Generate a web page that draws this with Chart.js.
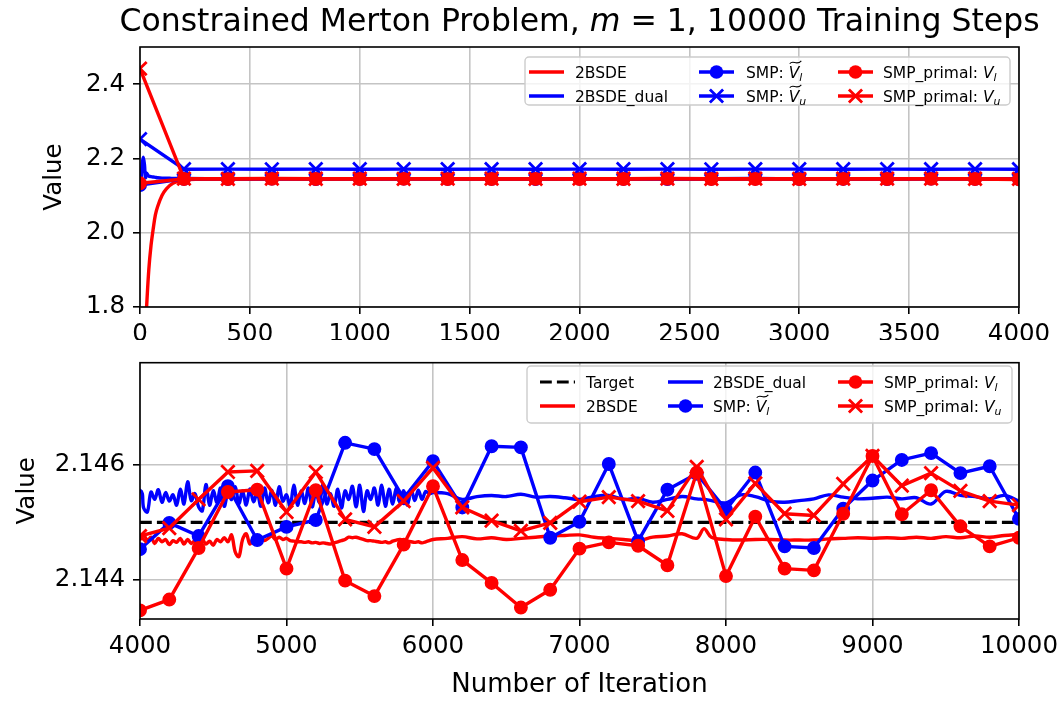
<!DOCTYPE html>
<html>
<head>
<meta charset="utf-8">
<script src="https://cdn.jsdelivr.net/npm/chart.js@4.4.1/dist/chart.umd.min.js"></script>
<style>
  html, body { margin: 0; padding: 0; background: #fff; }
  #wrap { position: relative; width: 1064px; height: 702px; }
  #top { position: absolute; left: 0; top: 0; }
  #bottom { position: absolute; left: 0; top: 340px; }
</style>
</head>
<body>
<div id="wrap">
  <canvas id="top" width="1064" height="340"></canvas>
  <canvas id="bottom" width="1064" height="362"></canvas>
</div>
<script>
// iterations at which the 2BSDE losses were logged
const lineIter = [
  0, 5, 10, 15, 20, 25, 30, 40, 50, 60, 70, 80, 100, 120, 150, 200,
  400, 600, 800, 1000, 1200, 1400, 1600, 1800, 2000, 2200, 2400, 2600, 2800, 3000, 3200, 3400, 3600, 3800,
  4000, 4025, 4050, 4075, 4100, 4125, 4150, 4175, 4200, 4225, 4250, 4275, 4300, 4325, 4350, 4375,
  4400, 4425, 4450, 4475, 4500, 4525, 4550, 4575, 4600, 4625, 4650, 4675, 4700, 4725, 4750, 4775,
  4800, 4825, 4850, 4875, 4900, 4925, 4950, 4975, 5000, 5025, 5050, 5075, 5100, 5125, 5150, 5175,
  5200, 5225, 5250, 5275, 5300, 5325, 5350, 5375, 5400, 5425, 5450, 5475, 5500, 5525, 5550, 5575,
  5600, 5625, 5650, 5675, 5700, 5725, 5750, 5775, 5800, 5825, 5850, 5875, 5900, 5925, 5950, 5975, 6000,
  6100, 6200, 6300, 6400, 6500, 6600, 6700, 6800, 6900, 7000, 7100, 7200, 7300, 7400, 7500, 7600, 7700, 7800,
  7850,
  7900, 8000, 8100, 8200, 8300, 8400, 8500, 8600, 8700, 8800, 8900, 9000, 9100, 9200, 9300, 9400, 9500,
  9600, 9700, 9800, 9900, 10000
]

const bsdeVal = [
  1.40, 1.46, 1.53, 1.60, 1.67, 1.74, 1.80, 1.90, 1.965, 2.01, 2.048, 2.07, 2.10, 2.118, 2.133, 2.1425,
  2.1445, 2.1447, 2.1446, 2.1448, 2.1446, 2.1447, 2.1445, 2.1447, 2.1446, 2.1448, 2.1447, 2.1446, 2.1447, 2.1445, 2.1447, 2.1446, 2.1447, 2.1446,
  2.14470, 2.14478, 2.14468, 2.14474, 2.14463, 2.14472, 2.14466, 2.14470, 2.14461, 2.14468,
  2.14465, 2.14472, 2.14462, 2.14470, 2.14463, 2.14468, 2.14458, 2.14470, 2.14462, 2.14467,
  2.14460, 2.14470, 2.14466, 2.14473, 2.14466, 2.14478, 2.14448, 2.14440, 2.14470, 2.14480,
  2.14462, 2.14472, 2.14466, 2.14474, 2.14468, 2.14472, 2.14476, 2.14470, 2.14474, 2.14470,
  2.14472, 2.14468, 2.14467, 2.14466, 2.14466, 2.14465, 2.14466, 2.14464, 2.14465, 2.14463,
  2.14464, 2.14463, 2.14462, 2.14464, 2.14466, 2.14468, 2.14470, 2.14474, 2.14473, 2.14474,
  2.14472, 2.14470, 2.14468, 2.14468, 2.14467, 2.14466, 2.14465, 2.14466, 2.14464, 2.14467,
  2.14469, 2.14470, 2.14468, 2.14467, 2.14466, 2.14465, 2.14466, 2.14464, 2.14466, 2.14468,
  2.14470,
  2.14472, 2.14475, 2.14471, 2.14473, 2.14470, 2.14472, 2.14474, 2.14476, 2.14477, 2.14478,
  2.14474, 2.14472, 2.14470, 2.14468, 2.14474, 2.14476, 2.14480, 2.14472,
  2.14489,
  2.14474, 2.14470, 2.14469, 2.14470, 2.14470, 2.14469, 2.14469, 2.14469, 2.14471, 2.14472, 2.14473,
  2.14472, 2.14473, 2.14472, 2.14474, 2.14472, 2.14475, 2.14473, 2.14476, 2.14474, 2.14477, 2.14479
]

const dualVal = [
  2.112, 2.145, 2.185, 2.203, 2.185, 2.148, 2.160, 2.152, 2.151, 2.150, 2.149, 2.148, 2.147, 2.147, 2.146, 2.1458,
  2.1455, 2.1454, 2.1456, 2.1455, 2.1453, 2.1456, 2.1454, 2.1455, 2.1456, 2.1454, 2.1455, 2.1453, 2.1455, 2.1456, 2.1454, 2.1455, 2.1456, 2.1455,
  2.14556, 2.14525, 2.14518, 2.14553, 2.14540, 2.14557, 2.14535, 2.14552, 2.14537, 2.14548,
  2.14530, 2.14558, 2.14532, 2.14571, 2.14538, 2.14550, 2.14527, 2.14520, 2.14566, 2.14530,
  2.14555, 2.14535, 2.14560, 2.14528, 2.14550, 2.14540, 2.14562, 2.14533, 2.14555, 2.14530,
  2.14558, 2.14536, 2.14552, 2.14528, 2.14560, 2.14534, 2.14556, 2.14530, 2.14562, 2.14537,
  2.14548, 2.14528, 2.14565, 2.14530, 2.14555, 2.14533, 2.14560, 2.14527, 2.14552, 2.14535,
  2.14566, 2.14532, 2.14550, 2.14528, 2.14558, 2.14525, 2.14555, 2.14540, 2.14563, 2.14527,
  2.14565, 2.14519, 2.14555, 2.14540, 2.14560, 2.14530, 2.14565, 2.14528, 2.14558, 2.14532,
  2.14560, 2.14535, 2.14555, 2.14530, 2.14558, 2.14538, 2.14556, 2.14540, 2.14554, 2.14550,
  2.14552,
  2.14550, 2.14540, 2.14545, 2.14547, 2.14545, 2.14549, 2.14544, 2.14545, 2.14543, 2.14540,
  2.14545, 2.14547, 2.14540, 2.14542, 2.14535, 2.14540, 2.14545, 2.14541,
  2.14540,
  2.14538, 2.14534, 2.14548, 2.14545, 2.14537, 2.14535, 2.14538, 2.14541, 2.14548, 2.14544, 2.14541,
  2.14542, 2.14544, 2.14541, 2.14543, 2.14532, 2.14554, 2.14547, 2.14545, 2.14541, 2.14547, 2.14537
]

// SMP evaluations every 200 iterations
const smpIter = [
  0, 200, 400, 600, 800, 1000, 1200, 1400, 1600, 1800, 2000, 2200, 2400, 2600, 2800, 3000, 3200, 3400, 3600, 3800,
  4000, 4200, 4400, 4600, 4800, 5000, 5200, 5400, 5600, 5800, 6000, 6200, 6400, 6600, 6800,
  7000, 7200, 7400, 7600, 7800, 8000, 8200, 8400, 8600, 8800, 9000, 9200, 9400, 9600, 9800, 10000
]

const smpTildeL = [
  2.128, 2.1452, 2.1448, 2.1455, 2.1446, 2.1451, 2.1457, 2.1449, 2.1453, 2.1447, 2.1456, 2.1450, 2.1445, 2.1454, 2.1458, 2.1448, 2.1452, 2.1446, 2.1455, 2.1450,
  2.14453, 2.14499, 2.14476, 2.14563, 2.14469, 2.14492, 2.14504, 2.14639, 2.14628, 2.14542,
  2.14607, 2.14526, 2.14633, 2.14631, 2.14473, 2.14501, 2.14602, 2.14467, 2.14557, 2.14585,
  2.14522, 2.14587, 2.14458, 2.14455, 2.14524, 2.14573, 2.14609, 2.14621, 2.14586, 2.14598, 2.14506
]

// only evaluated up to 4000 (it sits far above the lower panel's range)
const smpTildeU = [
  2.252, 2.1710, 2.1712, 2.1708, 2.1711, 2.1709, 2.1713, 2.1710, 2.1712, 2.1709, 2.1711,
  2.1710, 2.1713, 2.1708, 2.1711, 2.1712, 2.1709, 2.1711, 2.1710, 2.1712, 2.1710
]

const smpPrimalL = [
  2.133, 2.1447, 2.1443, 2.1449, 2.1445, 2.1446, 2.1450, 2.1444, 2.1447, 2.1448, 2.1443, 2.1446, 2.1449, 2.1445, 2.1447, 2.1444, 2.1448, 2.1446, 2.1450, 2.1445,
  2.14346, 2.14365, 2.14455, 2.14553, 2.14557, 2.14419, 2.14556, 2.14398, 2.14371, 2.14461,
  2.14563, 2.14434, 2.14394, 2.14351, 2.14382, 2.14454, 2.14465, 2.14459, 2.14425, 2.14587,
  2.14406, 2.14510, 2.14419, 2.14416, 2.14515, 2.14616, 2.14514, 2.14556, 2.14493, 2.14458, 2.14473
]

const smpPrimalU = [
  2.442, 2.1455, 2.1451, 2.1458, 2.1453, 2.1456, 2.1452, 2.1457, 2.1454, 2.1450, 2.1456, 2.1453, 2.1458, 2.1452, 2.1455, 2.1451, 2.1457, 2.1454, 2.1456, 2.1453,
  2.14476, 2.14490, 2.14540, 2.14588, 2.14590, 2.14518, 2.14588, 2.14505, 2.14492, 2.14537,
  2.14595, 2.14526, 2.14503, 2.14485, 2.14499, 2.14536, 2.14544, 2.14537, 2.14520, 2.14597,
  2.14505, 2.14568, 2.14515, 2.14512, 2.14567, 2.14616, 2.14564, 2.14586, 2.14555, 2.14537, 2.14530
]

const targetValue = 2.145
const targetIter = [4000, 10000]

const xTicksTop = [0, 500, 1000, 1500, 2000, 2500, 3000, 3500, 4000]
const xTicksBottom = [4000, 5000, 6000, 7000, 8000, 9000, 10000]
const yTicksTop = [1.8, 2.0, 2.2, 2.4]
const yTicksBottom = [2.144, 2.146]

// sanity check on hand typed arrays
;[[lineIter, bsdeVal], [lineIter, dualVal], [smpIter, smpTildeL], [smpIter, smpPrimalL], [smpIter, smpPrimalU]].forEach(([a, b], i) => {
  if (a.length !== b.length) throw new Error('length mismatch ' + i + ': ' + a.length + ' vs ' + b.length)
})

const FONT = 'DejaVu Sans'
const RED = '#ff0000'
const BLUE = '#0000ff'
Chart.defaults.font.family = FONT
Chart.defaults.color = '#000'

const styles = {
  target: { parts: [{ t: 'Target' }], color: '#000', width: 3.2, dash: [11.8, 5.1] },
  bsde: { parts: [{ t: '2BSDE' }], color: RED, width: 3.4, smooth: true },
  dual: { parts: [{ t: '2BSDE_dual' }], color: BLUE, width: 3.4, smooth: true },
  tildeL: { parts: [{ t: 'SMP: ' }, { t: 'V', it: 1, tilde: 1 }, { t: 'l', it: 1, sub: 1 }], color: BLUE, width: 3.4, marker: 'circle' },
  tildeU: { parts: [{ t: 'SMP: ' }, { t: 'V', it: 1, tilde: 1 }, { t: 'u', it: 1, sub: 1 }], color: BLUE, width: 3.4, marker: 'x' },
  primalL: { parts: [{ t: 'SMP_primal: ' }, { t: 'V', it: 1 }, { t: 'l', it: 1, sub: 1 }], color: RED, width: 3.4, marker: 'circle' },
  primalU: { parts: [{ t: 'SMP_primal: ' }, { t: 'V', it: 1 }, { t: 'u', it: 1, sub: 1 }], color: RED, width: 3.4, marker: 'x' }
}

function dataset(key, xs, ys, order) {
  const s = styles[key]
  return {
    label: key,
    data: ys.map((y, i) => ({ x: xs[i], y })),
    borderColor: s.color,
    backgroundColor: s.color,
    borderWidth: s.width,
    borderDash: s.dash || [],
    borderJoinStyle: 'round',
    pointStyle: s.marker === 'x' ? 'crossRot' : 'circle',
    pointRadius: s.marker === 'circle' ? 6.2 : s.marker === 'x' ? 9.4 : 0,
    pointBorderWidth: s.marker === 'x' ? 2.8 : 1.5,
    pointHoverRadius: 0,
    tension: s.smooth ? 0.35 : 0,
    fill: false,
    clip: 0,
    order
  }
}

function drawParts(ctx, parts, x, y, size, align) {
  const pieces = parts.map(p => {
    const fs = p.sub ? size * 0.7 : size
    const font = (p.it ? 'italic ' : '') + fs + 'px "' + FONT + '"'
    ctx.font = font
    return Object.assign({}, p, { fs, font, w: ctx.measureText(p.t).width })
  })
  const total = pieces.reduce((a, p) => a + p.w, 0)
  let cx = align === 'center' ? x - total / 2 : x
  ctx.textAlign = 'left'
  ctx.textBaseline = 'alphabetic'
  for (const p of pieces) {
    ctx.font = p.font
    ctx.fillText(p.t, cx, p.sub ? y + size * 0.22 : y)
    if (p.tilde) {
      const ty = y - size * 0.73 - 4
      const x0 = cx + 1, x1 = cx + p.w + 2
      const w = x1 - x0
      ctx.save()
      ctx.lineWidth = 1.1
      ctx.strokeStyle = ctx.fillStyle
      ctx.beginPath()
      ctx.moveTo(x0, ty + 1.5)
      ctx.bezierCurveTo(x0 + w * 0.3, ty - 3, x0 + w * 0.6, ty + 4, x1, ty - 1.5)
      ctx.stroke()
      ctx.restore()
    }
    cx += p.w
  }
}

function drawLegend(ctx, lg) {
  const [bx, by, bw, bh] = lg.box
  ctx.save()
  ctx.beginPath()
  ctx.roundRect(bx, by, bw, bh, 4)
  ctx.fillStyle = 'rgba(255,255,255,0.8)'
  ctx.fill()
  ctx.lineWidth = 1.4
  ctx.strokeStyle = '#cccccc'
  ctx.stroke()
  lg.cols.forEach(col => {
    col.keys.forEach((key, r) => {
      const s = styles[key]
      const y = lg.rows[r]
      const x0 = col.hx, x1 = col.hx + lg.handle
      ctx.strokeStyle = s.color
      ctx.fillStyle = s.color
      ctx.lineWidth = s.width
      ctx.setLineDash(s.dash || [])
      ctx.beginPath()
      ctx.moveTo(x0, y)
      ctx.lineTo(x1, y)
      ctx.stroke()
      ctx.setLineDash([])
      const mx = (x0 + x1) / 2
      if (s.marker === 'circle') {
        ctx.beginPath()
        ctx.arc(mx, y, 6.8, 0, Math.PI * 2)
        ctx.fill()
      } else if (s.marker === 'x') {
        ctx.lineWidth = 2.8
        ctx.beginPath()
        ctx.moveTo(mx - 6.6, y - 6.6); ctx.lineTo(mx + 6.6, y + 6.6)
        ctx.moveTo(mx - 6.6, y + 6.6); ctx.lineTo(mx + 6.6, y - 6.6)
        ctx.stroke()
      }
      ctx.fillStyle = '#000'
      drawParts(ctx, s.parts, col.tx, y + 5.6, 15.5, 'left')
    })
  })
  ctx.restore()
}

const decor = {
  id: 'decor',
  afterDatasetsDraw(chart) {
    const { ctx, chartArea: a } = chart
    ctx.save()
    ctx.strokeStyle = '#000'
    ctx.lineWidth = 1.6
    ctx.strokeRect(a.left, a.top, a.right - a.left, a.bottom - a.top)
    ctx.restore()
  },
  afterDraw(chart, args, o) {
    const { ctx, chartArea: a } = chart
    ctx.save()
    ctx.fillStyle = '#000'
    if (o.title) drawParts(ctx, o.title, (a.left + a.right) / 2, o.titleY, 31.5, 'center')
    ctx.save()
    ctx.translate(o.ylabelX, (a.top + a.bottom) / 2)
    ctx.rotate(-Math.PI / 2)
    ctx.font = '24.5px "' + FONT + '"'
    ctx.textAlign = 'center'
    ctx.textBaseline = 'middle'
    ctx.fillText('Value', 0, 0)
    ctx.restore()
    if (o.xlabel) {
      ctx.font = '26px "' + FONT + '"'
      ctx.textAlign = 'center'
      ctx.textBaseline = 'alphabetic'
      ctx.fillText(o.xlabel, (a.left + a.right) / 2, o.xlabelY)
    }
    drawLegend(ctx, o.legend)
    ctx.restore()
  }
}

function axes(xTicks, xMin, xMax, yTicks, yMin, yMax, yDigits, xHeight) {
  const grid = { color: '#c4c4c4', lineWidth: 1.6, tickColor: '#000', tickLength: 7, tickWidth: 1.6 }
  return {
    x: {
      type: 'linear', min: xMin, max: xMax,
      grid, border: { display: false },
      afterBuildTicks: s => { s.ticks = xTicks.map(v => ({ value: v })) },
      afterFit: s => { s.height = xHeight },
      ticks: { font: { size: 24.5 }, color: '#000', padding: 6, maxRotation: 0, autoSkip: false, callback: v => String(v) }
    },
    y: {
      type: 'linear', min: yMin, max: yMax,
      grid, border: { display: false },
      afterBuildTicks: s => { s.ticks = yTicks.map(v => ({ value: v })) },
      afterFit: s => { s.width = 140 },
      ticks: { font: { size: 24.5 }, color: '#000', padding: 8, autoSkip: false, callback: v => Number(v).toFixed(yDigits) }
    }
  }
}

const common = {
  responsive: false,
  animation: false,
  events: [],
  plugins: { legend: { display: false }, tooltip: { enabled: false } }
}

new Chart(document.getElementById('top'), {
  type: 'line',
  data: {
    datasets: [
      dataset('bsde', lineIter, bsdeVal, 6),
      dataset('dual', lineIter, dualVal, 5),
      dataset('tildeL', smpIter, smpTildeL, 4),
      dataset('tildeU', smpIter.slice(0, smpTildeU.length), smpTildeU, 3),
      dataset('primalL', smpIter, smpPrimalL, 2),
      dataset('primalU', smpIter, smpPrimalU, 1)
    ]
  },
  options: Object.assign({}, common, {
    layout: { padding: { left: 0, right: 45, top: 47, bottom: 0 } },
    scales: axes(xTicksTop, 0, 4000, yTicksTop, 1.8, 2.5, 1, 33),
    plugins: Object.assign({}, common.plugins, {
      decor: {
        title: [{ t: 'Constrained Merton Problem, ' }, { t: 'm', it: 1 }, { t: ' = 1, 10000 Training Steps' }],
        titleY: 31,
        ylabelX: 55,
        legend: {
          box: [525, 57, 485, 48], rows: [72, 96], handle: 35,
          cols: [
            { hx: 529, tx: 575, keys: ['bsde', 'dual'] },
            { hx: 699, tx: 746, keys: ['tildeL', 'tildeU'] },
            { hx: 838, tx: 883, keys: ['primalL', 'primalU'] }
          ]
        }
      }
    })
  }),
  plugins: [decor]
})

new Chart(document.getElementById('bottom'), {
  type: 'line',
  data: {
    datasets: [
      dataset('target', targetIter, targetIter.map(() => targetValue), 7),
      dataset('bsde', lineIter, bsdeVal, 6),
      dataset('dual', lineIter, dualVal, 5),
      dataset('tildeL', smpIter, smpTildeL, 4),
      dataset('primalL', smpIter, smpPrimalL, 2),
      dataset('primalU', smpIter, smpPrimalU, 1)
    ]
  },
  options: Object.assign({}, common, {
    layout: { padding: { left: 0, right: 45, top: 20, bottom: 0 } },
    scales: axes(xTicksBottom, 4000, 10000, yTicksBottom, 2.14331, 2.14779, 3, 83),
    plugins: Object.assign({}, common.plugins, {
      decor: {
        ylabelX: 28,
        xlabel: 'Number of Iteration',
        xlabelY: 352,
        legend: {
          box: [527, 26, 485, 57], rows: [42, 66], handle: 35,
          cols: [
            { hx: 540, tx: 586, keys: ['target', 'bsde'] },
            { hx: 668, tx: 713, keys: ['dual', 'tildeL'] },
            { hx: 838, tx: 884, keys: ['primalL', 'primalU'] }
          ]
        }
      }
    })
  }),
  plugins: [decor]
})
</script>
</body>
</html>
